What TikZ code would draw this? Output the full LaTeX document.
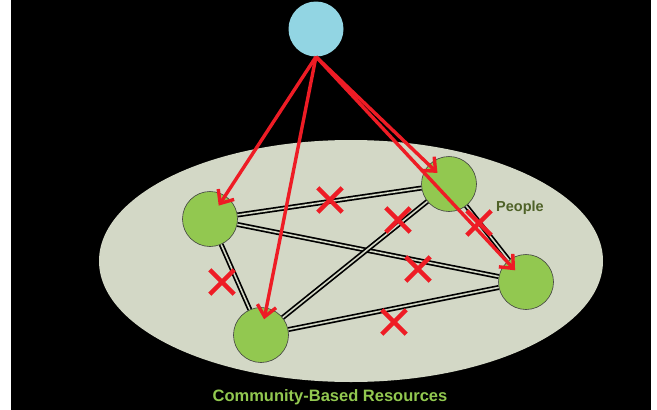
\documentclass[tikz,border=0pt]{standalone}
\usepackage{fontspec}
\setmainfont{Liberation Sans}
\usetikzlibrary{arrows.meta,shapes.misc}
\definecolor{ellbg}{HTML}{D3D8C6}
\definecolor{sky}{HTML}{92D5E3}
\definecolor{leaf}{HTML}{92C850}
\definecolor{olive}{HTML}{4F6228}
\definecolor{xred}{HTML}{EE1C25}
\tikzset{
  person/.style={circle,fill=leaf,draw=black!75,line width=0.6pt,minimum size=55pt,inner sep=0pt},
  link/.style={draw=black,line width=1.7pt,double=ellbg,double distance=1.6pt},
  xmark/.style={cross out,draw=xred,line width=4.4pt,minimum size=20pt,inner sep=0pt},
  reach/.style={draw=xred,line width=3.4pt,-{Straight Barb[length=11pt,width=19pt]},shorten >=16pt}
}
\begin{document}
\begin{tikzpicture}[x=1pt,y=-1pt,font=\bfseries]
\fill[white](0,0)rectangle(657,410);
\fill[black](11,0)rectangle(651,410);
\useasboundingbox(0,0)rectangle(657,410);
\fill[ellbg](351,261)ellipse[x radius=252,y radius=121];
\node[circle,fill=sky,minimum size=55pt,inner sep=0pt](hub) at (316,29){};
\node[person](pa) at (210,219){};
\node[person](pb) at (261,335){};
\node[person](pc) at (449,184){};
\node[person](pd) at (526,282){};
\draw[link](pa)--(pc);
\draw[link](pa)--(pd);
\draw[link](pa)--(pb);
\draw[link](pb)--(pc);
\draw[link](pb)--(pd);
\draw[link](pc)--(pd);
\node[xmark](x1) at (330,200){};
\node[xmark](x2) at (398,220){};
\node[xmark](x3) at (479,223){};
\node[xmark](x4) at (418,269){};
\node[xmark](x5) at (222,282){};
\node[xmark](x6) at (394,322){};
\draw[reach](hub.south)--(pa.center);
\draw[reach](hub.south)--(pb.center);
\draw[reach](hub.south)--(pc.center);
\draw[reach](hub.south)--(pd.center);
\node[text=olive,font=\bfseries\fontsize{14.5}{16}\selectfont](people) at (520,208){People};
\node[text=leaf,font=\bfseries\fontsize{16.5}{19}\selectfont](res) at (330,397){Community-Based Resources};
\end{tikzpicture}
\end{document}
